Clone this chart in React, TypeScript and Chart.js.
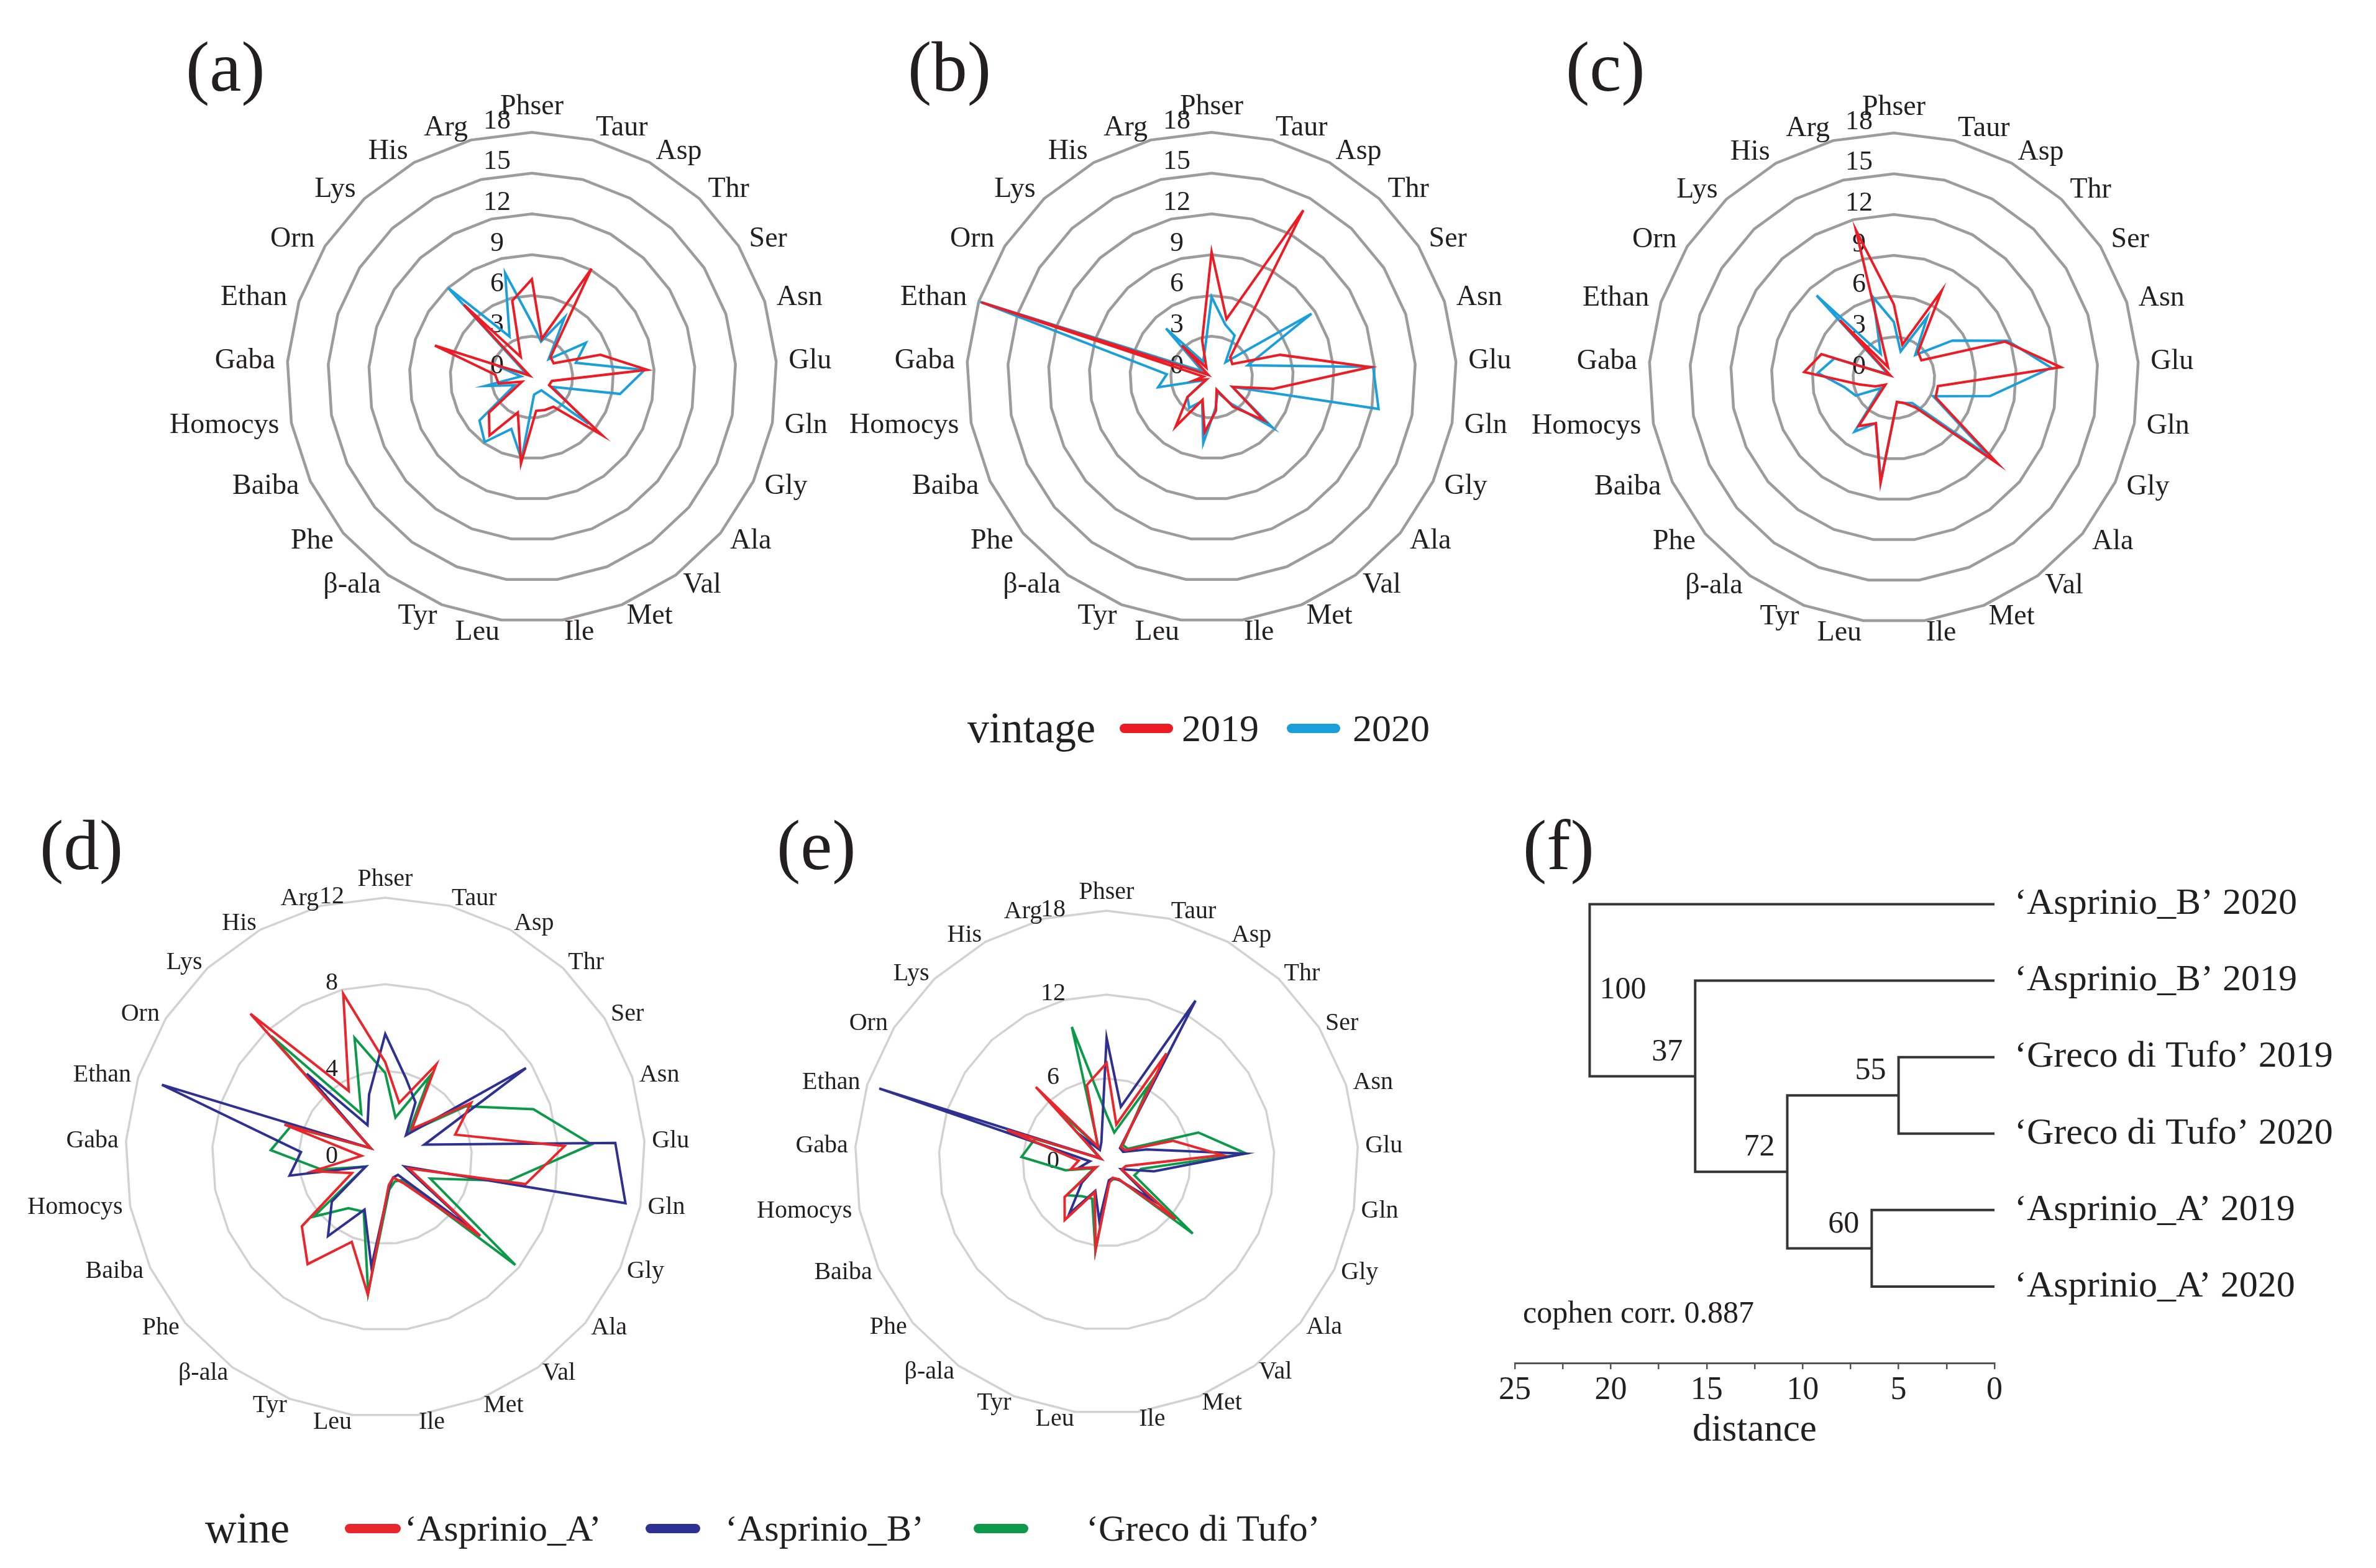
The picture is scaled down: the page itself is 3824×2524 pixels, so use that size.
import React, { useEffect, useRef } from 'react';
import { Chart, registerables } from 'chart.js';

Chart.register(...registerables);

// ---------- data ----------
const AMINO = ['Phser', 'Taur', 'Asp', 'Thr', 'Ser', 'Asn', 'Glu', 'Gln', 'Gly', 'Ala', 'Val', 'Met', 'Ile', 'Leu', 'Tyr', 'β-ala', 'Phe', 'Baiba', 'Homocys', 'Gaba', 'Ethan', 'Orn', 'Lys', 'His', 'Arg'];

// panel (a)
const A_2019 = [7.2, 2.9, 9.1, 2.0, 1.9, 5.3, 8.5, 1.5, 1.4, 6.7, 2.7, 2.6, 2.5, 6.4, 2.8, 5.3, 4.1, 0.8, 2.5, 2.7, 7.5, 0.2, 7.3, 1.7, 5.8];
const A_2020 = [4.0, 2.7, 5.0, 1.8, 4.7, 3.4, 8.3, 6.6, 1.7, 5.4, 1.2, 1.2, 1.3, 6.1, 4.1, 5.9, 5.0, 1.4, 3.5, 0.8, 2.7, 0.5, 9.0, 3.4, 7.9];
// panel (b)
const B_2019 = [9.2, 4.4, 14.0, 2.0, 1.8, 5.3, 11.7, 4.6, 1.7, 5.0, 2.7, 1.0, 2.5, 4.1, 1.8, 4.5, 2.3, 0.4, 1.3, 0.6, 17.8, 0.3, 3.2, 0.8, 2.8];
const B_2020 = [5.9, 4.0, 3.5, 1.5, 8.7, 2.8, 11.9, 12.5, 1.7, 5.8, 2.4, 1.2, 2.3, 4.9, 1.9, 2.8, 2.3, 0.5, 4.0, 3.3, 17.9, 0.8, 4.9, 1.3, 2.0];
// panel (c)
const C_2019 = [5.4, 2.5, 7.3, 2.6, 2.4, 8.6, 12.3, 3.3, 3.4, 9.9, 2.7, 2.0, 1.8, 7.8, 3.6, 4.4, 0.8, 1.5, 2.6, 6.6, 5.6, 0.3, 5.8, 0.9, 11.2];
const C_2020 = [4.1, 2.0, 5.1, 2.3, 5.1, 8.8, 11.6, 7.2, 3.2, 9.1, 2.3, 2.0, 1.8, 7.6, 3.6, 4.9, 1.2, 3.1, 3.7, 5.6, 4.6, 0.5, 8.3, 2.0, 6.1];
// panel (d)
const D_ASPRINIO_A = [4.4, 2.6, 4.9, 1.8, 4.7, 3.4, 8.3, 6.6, 1.2, 5.7, 1.5, 1.0, 1.3, 6.4, 4.2, 6.1, 5.0, 1.7, 3.4, 1.1, 4.9, 0.8, 9.1, 3.5, 7.8];
const D_ASPRINIO_B = [5.7, 3.8, 2.9, 1.4, 7.7, 1.9, 10.65, 11.3, 1.0, 5.4, 1.0, 1.0, 1.4, 5.1, 2.6, 4.5, 3.2, 1.0, 4.5, 3.9, 10.85, 0.8, 5.3, 1.7, 3.0];
const D_GRECO = [3.9, 1.9, 4.3, 1.6, 4.4, 7.2, 9.55, 5.8, 2.3, 7.8, 1.3, 1.2, 1.5, 6.3, 2.7, 2.9, 4.3, 1.0, 3.0, 5.3, 4.6, 0.8, 7.7, 2.3, 5.7];
// panel (e)
const E_ASPRINIO_A = [7.1, 2.8, 8.9, 1.5, 1.6, 5.0, 8.3, 1.4, 1.2, 6.4, 1.5, 1.2, 1.5, 6.3, 2.3, 5.1, 3.9, 0.8, 2.6, 2.0, 7.5, 0.5, 7.4, 1.3, 5.7];
const E_ASPRINIO_B = [8.9, 4.1, 13.2, 1.4, 1.4, 3.0, 9.9, 3.45, 1.15, 4.2, 1.6, 1.2, 1.3, 4.2, 2.2, 4.55, 2.3, 0.9, 2.0, 1.2, 17.1, 0.5, 2.5, 1.0, 1.5];
const E_GRECO = [3.4, 2.2, 6.4, 1.7, 1.8, 6.9, 10.0, 2.5, 2.2, 8.0, 1.5, 1.3, 1.4, 6.4, 2.8, 3.0, 3.7, 1.0, 3.0, 6.1, 5.4, 0.6, 5.5, 1.2, 10.0];

const TICKS_ABC = [0, 3, 6, 9, 12, 15, 18];
const TICKS_D = [0, 4, 8, 12];
const TICKS_E = [0, 6, 12, 18];

// panel (f) dendrogram
const LEAVES = ['‘Asprinio_B’ 2020', '‘Asprinio_B’ 2019', '‘Greco di Tufo’ 2019', '‘Greco di Tufo’ 2020', '‘Asprinio_A’ 2019', '‘Asprinio_A’ 2020'];
const MERGE_LEFT = [2, 4, 6, 1, 0];
const MERGE_RIGHT = [3, 5, 7, 8, 9];
const MERGE_DIST = [5.0, 6.4, 10.8, 15.6, 21.1];
const MERGE_SUPPORT = ['55', '60', '72', '37', '100'];
const COPHEN = 'cophen corr. 0.887';
const X_TITLE = 'distance';

// ---------- styles ----------
const FONT = 'Liberation Serif';
const TEXT = '#231f20';
const RED = '#ed1c24';
const BLUE = '#1b9fdb';
const W_RED = '#e8262b';
const W_NAVY = '#2e3192';
const W_GREEN = '#0c9a4a';

const radarText = {
  id: 'radarText',
  beforeDatasetsDraw(chart: any, _args: any, opts: any) {
    const s = chart.scales.r;
    const ctx = chart.ctx;
    ctx.save();
    ctx.fillStyle = TEXT;
    ctx.textBaseline = 'middle';
    ctx.font = `${opts.tickSize}px "${FONT}"`;
    ctx.textAlign = 'center';
    for (const v of opts.ticks) {
      const d = s.getDistanceFromCenterForValue(v);
      ctx.fillText(String(v), s.xCenter + opts.tickDx, s.yCenter - d + opts.tickDy);
    }
    ctx.font = `${opts.labelSize}px "${FONT}"`;
    const labels = chart.data.labels;
    for (let i = 0; i < labels.length; i++) {
      const p = s.getPointPosition(i, s.drawingArea + opts.labelPad);
      const ux = Math.cos(p.angle);
      const uy = Math.sin(p.angle);
      let y = p.y;
      if (Math.abs(ux) < 0.05) {
        ctx.textAlign = 'center';
        y = p.y + uy * opts.labelSize * 0.45;
      } else {
        ctx.textAlign = ux > 0 ? 'left' : 'right';
      }
      ctx.fillText(String(labels[i]), p.x, y);
    }
    ctx.restore();
  },
};

type Series = { label: string; data: number[]; color: string };

function RadarPanel(props: {
  cx: number; cy: number; R: number; max: number; step: number; ticks: number[];
  series: Series[]; gridColor: string; gridWidth: number; lineWidth: number;
  labelSize: number; tickSize: number; labelPad: number; tickDx: number; tickDy: number;
}) {
  const ref = useRef<HTMLCanvasElement | null>(null);
  const padL = 340, padR = 340, padT = 180, padB = 200;
  const W = 2 * props.R + padL + padR;
  const H = 2 * props.R + padT + padB;
  useEffect(() => {
    const chart = new Chart(ref.current as HTMLCanvasElement, {
      type: 'radar',
      data: {
        labels: AMINO,
        datasets: props.series.map((s) => ({
          label: s.label,
          data: s.data,
          borderColor: s.color,
          backgroundColor: 'transparent',
          borderWidth: props.lineWidth,
          borderJoinStyle: 'miter',
          fill: false,
          pointRadius: 0,
          pointHoverRadius: 0,
          tension: 0,
        })),
      },
      options: {
        responsive: false,
        animation: false,
        devicePixelRatio: 1,
        layout: { padding: { left: padL, right: padR, top: padT, bottom: padB } },
        plugins: {
          legend: { display: false },
          tooltip: { enabled: false },
          radarText: {
            ticks: props.ticks, labelSize: props.labelSize, tickSize: props.tickSize,
            labelPad: props.labelPad, tickDx: props.tickDx, tickDy: props.tickDy,
          },
        } as any,
        scales: {
          r: {
            min: 0,
            max: props.max,
            ticks: { stepSize: props.step, display: false },
            pointLabels: { display: false },
            angleLines: { display: false },
            grid: { color: props.gridColor, lineWidth: props.gridWidth, circular: false },
          },
        },
      } as any,
      plugins: [radarText],
    });
    return () => chart.destroy();
  }, []);
  return (
    <canvas
      ref={ref}
      width={W}
      height={H}
      style={{ position: 'absolute', left: props.cx - props.R - padL, top: props.cy - props.R - padT, width: W, height: H }}
    />
  );
}

const dendroText = {
  id: 'dendroText',
  afterDatasetsDraw(chart: any) {
    const x = chart.scales.x;
    const y = chart.scales.y;
    const ctx = chart.ctx;
    const area = chart.chartArea;
    const nodeY: number[] = LEAVES.map((_, i) => i);
    MERGE_DIST.forEach((_, k) => {
      nodeY.push((nodeY[MERGE_LEFT[k]] + nodeY[MERGE_RIGHT[k]]) / 2);
    });
    ctx.save();
    ctx.fillStyle = TEXT;
    ctx.textBaseline = 'middle';
    ctx.textAlign = 'left';
    ctx.font = `60px "${FONT}"`;
    LEAVES.forEach((name, i) => {
      ctx.fillText(name, x.getPixelForValue(0) + 32, y.getPixelForValue(i));
    });
    ctx.font = `50px "${FONT}"`;
    MERGE_DIST.forEach((d, k) => {
      const px = x.getPixelForValue(d);
      const py = y.getPixelForValue(nodeY[LEAVES.length + k]);
      if (k === MERGE_DIST.length - 1) {
        ctx.textAlign = 'left';
        ctx.textBaseline = 'middle';
        ctx.fillText(MERGE_SUPPORT[k], px + 16, py);
      } else {
        ctx.textAlign = 'right';
        ctx.textBaseline = 'bottom';
        ctx.fillText(MERGE_SUPPORT[k], px - 20, py - 14);
      }
    });
    ctx.textAlign = 'left';
    ctx.textBaseline = 'middle';
    ctx.fillText(COPHEN, area.left + 13, area.bottom - 78);
    ctx.font = `61px "${FONT}"`;
    ctx.textAlign = 'center';
    ctx.fillText(X_TITLE, (area.left + area.right) / 2, area.bottom + 109);
    ctx.restore();
  },
};

function Dendrogram() {
  const ref = useRef<HTMLCanvasElement | null>(null);
  const left = 2380, top = 1300, W = 1444, H = 1080;
  useEffect(() => {
    const nodeX: number[] = LEAVES.map(() => 0);
    const nodeY: number[] = LEAVES.map((_, i) => i);
    const datasets: any[] = [];
    MERGE_DIST.forEach((d, k) => {
      const a = MERGE_LEFT[k];
      const b = MERGE_RIGHT[k];
      datasets.push({
        data: [
          { x: nodeX[a], y: nodeY[a] },
          { x: d, y: nodeY[a] },
          { x: d, y: nodeY[b] },
          { x: nodeX[b], y: nodeY[b] },
        ],
        showLine: true,
        borderColor: '#353535',
        borderWidth: 4,
        pointRadius: 0,
        tension: 0,
        fill: false,
      });
      nodeX.push(d);
      nodeY.push((nodeY[a] + nodeY[b]) / 2);
    });
    const chart = new Chart(ref.current as HTMLCanvasElement, {
      type: 'scatter',
      data: { datasets },
      options: {
        responsive: false,
        animation: false,
        devicePixelRatio: 1,
        layout: { padding: { left: 58, right: 614, top: 94, bottom: 0 } },
        plugins: { legend: { display: false }, tooltip: { enabled: false } },
        scales: {
          x: {
            type: 'linear',
            position: 'bottom',
            reverse: true,
            min: 0,
            max: 25,
            afterFit: (scale: any) => { scale.height = 186; },
            ticks: {
              stepSize: 2.5,
              autoSkip: false,
              maxRotation: 0,
              padding: 3,
              color: TEXT,
              font: { family: FONT, size: 52 },
              callback: (v: any) => (Math.abs(v % 5) < 1e-9 ? String(v) : ''),
            },
            grid: { display: true, drawOnChartArea: false, drawTicks: true, tickLength: 10, color: '#555555', lineWidth: 2.5 },
            border: { display: true, color: '#555555', width: 3 },
            title: { display: false },
          },
          y: { type: 'linear', display: false, reverse: true, min: -0.5, max: 6 },
        },
      } as any,
      plugins: [dendroText],
    });
    return () => chart.destroy();
  }, []);
  return <canvas ref={ref} width={W} height={H} style={{ position: 'absolute', left, top, width: W, height: H }} />;
}

function Txt(props: { x: number; y: number; size: number; children: React.ReactNode }) {
  return (
    <div
      style={{
        position: 'absolute', left: props.x, top: props.y, transform: 'translateY(-50%)',
        fontFamily: FONT, fontSize: props.size, lineHeight: 1, color: TEXT, whiteSpace: 'nowrap',
      }}
    >
      {props.children}
    </div>
  );
}

function Swatch(props: { x: number; y: number; w: number; color: string }) {
  return (
    <div
      style={{
        position: 'absolute', left: props.x, top: props.y - 7.5, width: props.w, height: 15,
        borderRadius: 8, background: props.color,
      }}
    />
  );
}

export default function App() {
  const top = { R: 394, max: 18, step: 3, ticks: TICKS_ABC, gridColor: '#9c9c9c', gridWidth: 4.5, lineWidth: 4, labelSize: 46, tickSize: 44, labelPad: 20, tickDx: -56, tickDy: -18 };
  const bottom = { gridColor: '#d2d2d2', gridWidth: 3.5, lineWidth: 4, labelSize: 40, tickSize: 40, labelPad: 12, tickDx: -86, tickDy: -2 };
  return (
    <div style={{ position: 'absolute', left: 0, top: 0, width: 3824, height: 2524, overflow: 'hidden', background: '#ffffff' }}>
      <RadarPanel cx={856} cy={607} {...top} series={[{ label: '2019', data: A_2019, color: RED }, { label: '2020', data: A_2020, color: BLUE }]} />
      <RadarPanel cx={1950} cy={607} {...top} series={[{ label: '2019', data: B_2019, color: RED }, { label: '2020', data: B_2020, color: BLUE }]} />
      <RadarPanel cx={3048} cy={608} {...top} series={[{ label: '2019', data: C_2019, color: RED }, { label: '2020', data: C_2020, color: BLUE }]} />
      <RadarPanel cx={620} cy={1863} R={418} max={12} step={4} ticks={TICKS_D} {...bottom}
        series={[{ label: '‘Asprinio_A’', data: D_ASPRINIO_A, color: W_RED }, { label: '‘Asprinio_B’', data: D_ASPRINIO_B, color: W_NAVY }, { label: '‘Greco di Tufo’', data: D_GRECO, color: W_GREEN }]} />
      <RadarPanel cx={1781} cy={1871} R={405} max={18} step={6} ticks={TICKS_E} {...bottom}
        series={[{ label: '‘Asprinio_A’', data: E_ASPRINIO_A, color: W_RED }, { label: '‘Asprinio_B’', data: E_ASPRINIO_B, color: W_NAVY }, { label: '‘Greco di Tufo’', data: E_GRECO, color: W_GREEN }]} />
      <Dendrogram />

      <Txt x={299} y={107} size={115}>(a)</Txt>
      <Txt x={1461} y={107} size={115}>(b)</Txt>
      <Txt x={2520} y={107} size={115}>(c)</Txt>
      <Txt x={64} y={1360} size={115}>(d)</Txt>
      <Txt x={1250} y={1360} size={115}>(e)</Txt>
      <Txt x={2451} y={1360} size={115}>(f)</Txt>

      <Txt x={1557} y={1172} size={70}>vintage</Txt>
      <Swatch x={1802} y={1172} w={86} color={RED} />
      <Txt x={1902} y={1172} size={62}>2019</Txt>
      <Swatch x={2071} y={1172} w={86} color={BLUE} />
      <Txt x={2177} y={1172} size={62}>2020</Txt>

      <Txt x={330} y={2460} size={70}>wine</Txt>
      <Swatch x={555} y={2460} w={90} color={W_RED} />
      <Txt x={651} y={2460} size={60}>‘Asprinio_A’</Txt>
      <Swatch x={1039} y={2460} w={88} color={W_NAVY} />
      <Txt x={1167} y={2460} size={60}>‘Asprinio_B’</Txt>
      <Swatch x={1567} y={2460} w={88} color={W_GREEN} />
      <Txt x={1748} y={2460} size={60}>‘Greco di Tufo’</Txt>
    </div>
  );
}
